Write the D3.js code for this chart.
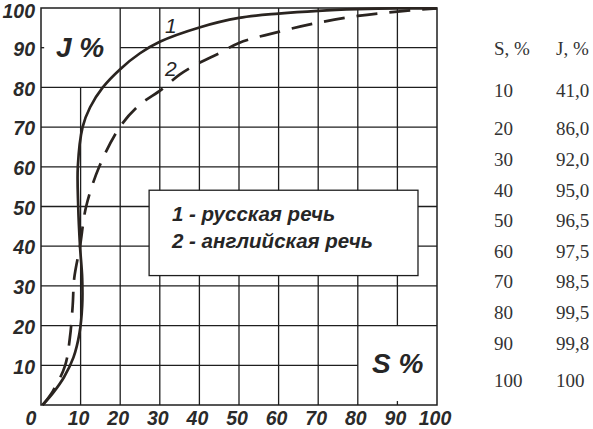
<!DOCTYPE html>
<html>
<head>
<meta charset="utf-8">
<script src="https://cdn.jsdelivr.net/npm/d3@7"></script>
<style>
  html, body { margin: 0; padding: 0; background: #fff; }
  svg { display: block; }
</style>
</head>
<body>
<script>
// ---------- data ----------
const axisTicks = [10, 20, 30, 40, 50, 60, 70, 80, 90, 100];
// curve 1: Russian speech (solid)
const russianS = [0.4, 3, 5.8, 8.2, 9.7, 10.4, 10.4, 9.85, 9.4, 9.3, 10.5, 12.4, 15.6, 20, 25, 30, 40, 50, 60, 70, 80, 90, 100];
const russianJ = [0, 3, 7, 12, 18, 25, 32, 40, 50, 60, 70, 75, 80, 84.6, 88.6, 91.5, 95.1, 97.5, 98.6, 99.3, 99.7, 99.9, 99.9];
// curve 2: English speech (dashed)
const englishS = [0.4, 3, 6.1, 7.3, 8, 8.4, 9.85, 11.4, 14.7, 19.9, 24.8, 30.5, 35, 40, 45, 50, 60, 70, 80, 90, 100];
const englishJ = [0, 3.5, 10, 17, 25, 32, 40, 50, 60, 70, 75.5, 79.5, 83.2, 86.2, 88.6, 91.2, 94, 96.3, 98, 99.1, 99.9];
// table on the right
const tableS = [10, 20, 30, 40, 50, 60, 70, 80, 90, 100];
const tableJ = [41.0, 86.0, 92.0, 95.0, 96.5, 97.5, 98.5, 99.5, 99.8, 100];
const legendLabels = ["1 - русская речь", "2 - английская речь"];
const curveLabels = ["1", "2"];

// ---------- layout ----------
const W = 593, H = 429;
const x = d3.scaleLinear().domain([0, 100]).range([41, 437]);
const y = d3.scaleLinear().domain([0, 100]).range([405, 8]);
const ink = "#1e1e1e";
const curveInk = "#2a2420";
const sansBI = "'Liberation Sans', Arial, sans-serif";
const tableRowY = [96.7, 135, 165.7, 196.7, 227.3, 258.3, 288.3, 319.3, 350, 386.7];

const svg = d3.select("body").append("svg").attr("width", W).attr("height", H)
  .style("background", "#fff");

// ---------- grid ----------
const grid = svg.append("g").attr("stroke", ink).attr("stroke-width", 1.3).attr("fill", "none");
const inner = d3.range(10, 100, 10);
function vExtent(v) {
  if (v === 10) return [[0, 80]];
  if (v === 90) return [[20, 100], [0, 1]];
  return [[0, 100]];
}
function hExtent(v) {
  if (v === 90) return [[20, 100], [0, 0.8]];
  if (v === 10) return [[0, 80]];
  return [[0, 100]];
}
inner.forEach(v => {
  vExtent(v).forEach(([a, b]) => {
    grid.append("line").attr("x1", x(v)).attr("x2", x(v)).attr("y1", y(a)).attr("y2", y(b));
  });
  hExtent(v).forEach(([a, b]) => {
    grid.append("line").attr("y1", y(v)).attr("y2", y(v)).attr("x1", x(a)).attr("x2", x(b));
  });
});
grid.append("rect").attr("x", x(0)).attr("y", y(100))
  .attr("width", x(100) - x(0)).attr("height", y(0) - y(100))
  .attr("stroke-width", 1.5);

// ---------- legend box ----------
svg.append("rect")
  .attr("x", x(27.3)).attr("y", y(54.1))
  .attr("width", x(95.2) - x(27.3)).attr("height", y(32.6) - y(54.1))
  .attr("fill", "#fff").attr("stroke", ink).attr("stroke-width", 1.3);
svg.append("g").selectAll("text").data(legendLabels).join("text")
  .attr("x", 172).attr("y", (d, i) => 221 + i * 26.7)
  .attr("font-family", sansBI).attr("font-weight", "bold").attr("font-style", "italic")
  .attr("font-size", 20.5).attr("fill", "#262626")
  .text(d => d);

// ---------- curves ----------
const line = d3.line().x(d => x(d[0])).y(d => y(d[1])).curve(d3.curveCatmullRom.alpha(0.5));
const rus = russianS.map((s, i) => [s, russianJ[i]]);
const eng = englishS.map((s, i) => [s, englishJ[i]]);
svg.append("path").attr("d", line(eng)).attr("fill", "none")
  .attr("stroke", curveInk).attr("stroke-width", 2.7).attr("stroke-dasharray", "21,12")
  .attr("stroke-linecap", "butt");
svg.append("path").attr("d", line(rus)).attr("fill", "none")
  .attr("stroke", curveInk).attr("stroke-width", 2.7);

// curve labels
svg.append("g").selectAll("text").data(curveLabels).join("text")
  .attr("x", 165).attr("y", (d, i) => i === 0 ? 33 : 76)
  .attr("font-family", sansBI).attr("font-style", "italic")
  .attr("font-size", 21).attr("fill", "#262626")
  .text(d => d);

// ---------- axis labels ----------
const tickFont = g => g.attr("font-family", sansBI).attr("font-weight", "bold")
  .attr("font-style", "italic").attr("font-size", 19.5).attr("fill", "#2a2a2a");
svg.append("g").call(tickFont).selectAll("text").data(axisTicks).join("text")
  .attr("x", 35).attr("y", d => Math.max(y(d) + 8.2, 18)).attr("text-anchor", "end").text(d => d);
svg.append("g").call(tickFont).selectAll("text").data([0].concat(axisTicks)).join("text")
  .attr("x", d => d === 0 ? x(d) - 10 : x(d) - 2).attr("y", 425)
  .attr("text-anchor", "middle").text(d => d);

svg.append("text").attr("x", 56).attr("y", 56.5)
  .attr("font-family", sansBI).attr("font-weight", "bold").attr("font-style", "italic")
  .attr("font-size", 28).attr("fill", "#262626").text("J %");
svg.append("text").attr("x", 372).attr("y", 373)
  .attr("font-family", sansBI).attr("font-weight", "bold").attr("font-style", "italic")
  .attr("font-size", 28).attr("fill", "#262626").text("S %");

// ---------- table ----------
const serif = "'Liberation Serif', 'Times New Roman', serif";
const tbl = svg.append("g").attr("font-family", serif).attr("font-size", 19).attr("fill", "#333");
tbl.append("text").attr("x", 494).attr("y", 55).text("S, %");
tbl.append("text").attr("x", 556).attr("y", 55).text("J, %");
tbl.selectAll("text.s").data(tableS).join("text").attr("class", "s")
  .attr("x", 494).attr("y", (d, i) => tableRowY[i]).text(d => d);
tbl.selectAll("text.j").data(tableJ).join("text").attr("class", "j")
  .attr("x", 556).attr("y", (d, i) => tableRowY[i])
  .text(d => d === 100 ? "100" : d.toFixed(1).replace(".", ","));
</script>
</body>
</html>
